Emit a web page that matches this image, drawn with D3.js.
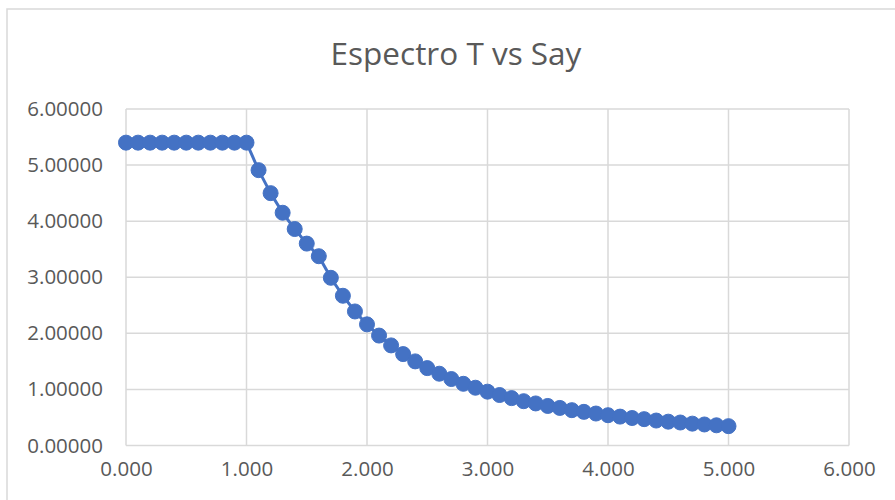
<!DOCTYPE html>
<html>
<head>
<meta charset="utf-8">
<script src="https://cdn.jsdelivr.net/npm/d3@7"></script>
<style>
  html, body { margin: 0; padding: 0; background: #ffffff; }
  svg { display: block; }
</style>
</head>
<body>
<script>
const title = "Espectro T vs Say";
const periods = [0.0,0.1,0.2,0.3,0.4,0.5,0.6,0.7,0.8,0.9,1.0,
  1.1,1.2,1.3,1.4,1.5,1.6,1.7,1.8,1.9,2.0,
  2.1,2.2,2.3,2.4,2.5,2.6,2.7,2.8,2.9,3.0,
  3.1,3.2,3.3,3.4,3.5,3.6,3.7,3.8,3.9,4.0,
  4.1,4.2,4.3,4.4,4.5,4.6,4.7,4.8,4.9,5.0];
const sayValues = [5.40,5.40,5.40,5.40,5.40,5.40,5.40,5.40,5.40,5.40,5.40,
  4.91,4.50,4.15,3.86,3.60,3.375,2.99,2.67,2.39,2.16,
  1.96,1.785,1.63,1.50,1.38,1.28,1.185,1.10,1.03,0.96,
  0.90,0.845,0.79,0.75,0.705,0.67,0.63,0.60,0.57,0.54,
  0.515,0.49,0.47,0.445,0.425,0.41,0.39,0.375,0.36,0.345];
const xTicks = [0,1,2,3,4,5,6];
const yTicks = [0,1,2,3,4,5,6];

const W = 895, H = 500;
const svg = d3.select("body").append("svg").attr("width", W).attr("height", H);
const font = "'Open Sans', 'Segoe UI', sans-serif";

// chart frame
svg.append("rect").attr("x", 7).attr("y", 9).attr("width", 910).attr("height", 520)
  .attr("fill", "#fff").attr("stroke", "#d9d9d9").attr("stroke-width", 1.5);

const pLeft = 126, pRight = 849, pTop = 109, pBottom = 445.5;
const x = d3.scaleLinear().domain([0, 6]).range([pLeft, pRight]);
const y = d3.scaleLinear().domain([0, 6]).range([pBottom, pTop]);

// gridlines
const g = svg.append("g");
g.selectAll("line.h").data(yTicks).join("line").attr("class","h")
  .attr("x1", pLeft).attr("x2", pRight).attr("y1", d => y(d)).attr("y2", d => y(d))
  .attr("stroke", "#d9d9d9").attr("stroke-width", 1.5);
g.selectAll("line.v").data(xTicks).join("line").attr("class","v")
  .attr("y1", pTop).attr("y2", pBottom).attr("x1", d => x(d)).attr("x2", d => x(d))
  .attr("stroke", "#d9d9d9").attr("stroke-width", 1.5);

// axes labels via d3 axes
const yAxis = svg.append("g").attr("transform", `translate(${pLeft},0)`)
  .call(d3.axisLeft(y).tickValues(yTicks).tickFormat(d3.format(".5f")).tickSize(0).tickPadding(23));
const xAxis = svg.append("g").attr("transform", `translate(0,${pBottom})`)
  .call(d3.axisBottom(x).tickValues(xTicks).tickFormat(d3.format(".3f")).tickSize(0).tickPadding(16));
[yAxis, xAxis].forEach(a => {
  a.select(".domain").remove();
  a.selectAll("text").attr("fill", "#595959").attr("font-family", font).attr("font-size", "20.5px");
});

// title
svg.append("text").attr("x", 456).attr("y", 65).attr("text-anchor", "middle")
  .attr("font-family", font).attr("font-size", "31.5px").attr("fill", "#595959").text(title);

const data = periods.map((t, i) => ({t, v: sayValues[i]}));
const line = d3.line().x(d => x(d.t)).y(d => y(d.v));
svg.append("path").datum(data).attr("d", line).attr("fill", "none")
  .attr("stroke", "#4472C4").attr("stroke-width", 3).attr("stroke-linejoin", "round");
svg.selectAll("circle").data(data).join("circle")
  .attr("cx", d => x(d.t)).attr("cy", d => y(d.v)).attr("r", 7.5)
  .attr("fill", "#4472C4").attr("stroke", "#4472C4").attr("stroke-width", 1);
</script>
</body>
</html>
